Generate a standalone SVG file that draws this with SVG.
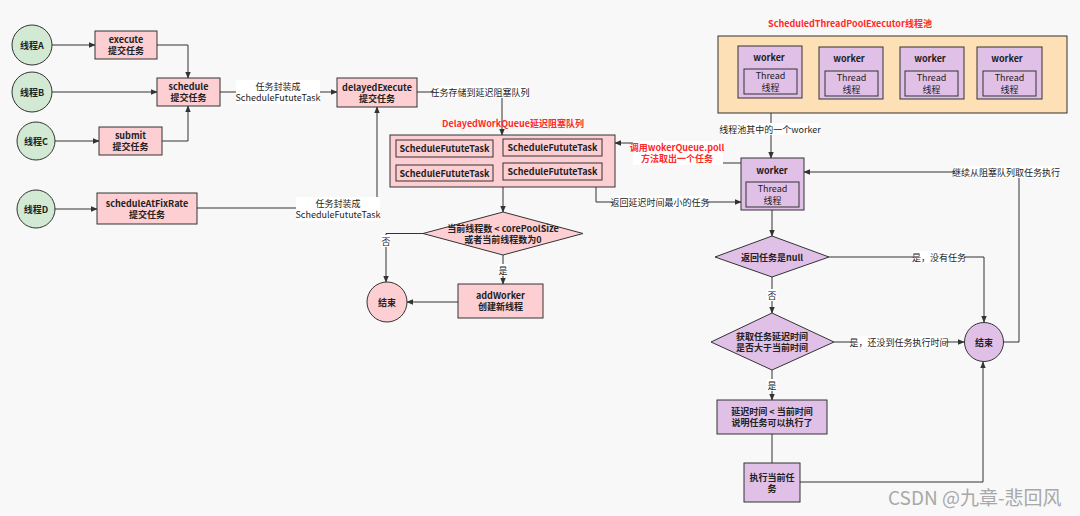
<svg xmlns="http://www.w3.org/2000/svg" width="1080" height="516" viewBox="0 0 1080 516">
<defs>
<marker id="a" viewBox="0 0 10 10" refX="9" refY="5" markerWidth="7" markerHeight="7" orient="auto" markerUnits="userSpaceOnUse"><path d="M0,1 L10,5 L0,9 Z" fill="#333"/></marker>
<style>
.pk{fill:#fdcfd3;stroke:#333;stroke-width:1}
.gr{fill:#d2e9d3;stroke:#333;stroke-width:1}
.pu{fill:#e0c0e7;stroke:#333;stroke-width:1}
.or{fill:#fde0b5;stroke:#333;stroke-width:1}
.t{font-family:"Noto Sans CJK SC","Noto Sans",sans-serif;font-size:9px;fill:#222;text-anchor:middle;dominant-baseline:central}
.b{font-weight:bold}
.th{font-size:9px}
.red{fill:#ff2a2a}
.ln{fill:none;stroke:#333;stroke-width:1;marker-end:url(#a)}
.ln0{fill:none;stroke:#333;stroke-width:1}
.bg{fill:#ffffff}
</style>
</defs>
<rect width="1080" height="516" fill="#f8f8f8"/>

<g id="connectors">
<path class="ln" d="M52,45 H95"/>
<path class="ln" d="M157,45 H188 V78"/>
<path class="ln" d="M52,92 H157"/>
<path class="ln" d="M55,141 H99"/>
<path class="ln" d="M162,141 H188 V106"/>
<path class="ln" d="M220,92 H337"/>
<path class="ln" d="M55,209 H97"/>
<path class="ln" d="M197,208 H377 V107"/>
<path class="ln" d="M417,92 H502 V135"/>
<path class="ln" d="M503,187 V212"/>
<path class="ln" d="M423,233.5 H386 V282"/>
<path class="ln" d="M503,255 V284"/>
<path class="ln" d="M458,302 H407"/>
<path class="ln" d="M771,98 V158"/>
<path class="ln" d="M741,163 H680 V143 H615"/>
<path class="ln" d="M596,187 V202 H741"/>
<path class="ln" d="M772,210 V236"/>
<path class="ln" d="M829,257 H984 V322"/>
<path class="ln" d="M772,277 V313"/>
<path class="ln" d="M834,342 H964"/>
<path class="ln" d="M772,370 V400"/>
<path class="ln0" d="M772,434 V463"/>
<path class="ln" d="M800,482 H983 V362"/>
<path class="ln" d="M1003,342 H1019 V172 H804"/>

<rect class="bg" x="236" y="80" width="84" height="24"/>
<text class="t" x="278" y="86.5">任务封装成</text>
<text class="t" x="278" y="97.5">ScheduleFututeTask</text>
<rect class="bg" x="296" y="197" width="84" height="24"/>
<text class="t" x="338" y="203.5">任务封装成</text>
<text class="t" x="338" y="214.5">ScheduleFututeTask</text>
<rect class="bg" x="434" y="86" width="92" height="12"/>
<text class="t" x="480" y="92">任务存储到延迟阻塞队列</text>
<rect class="bg" x="381" y="235" width="10" height="12"/>
<text class="t" x="386" y="241">否</text>
<rect class="bg" x="498" y="264" width="10" height="12"/>
<text class="t" x="503" y="270">是</text>
<rect class="bg" x="722" y="123" width="97" height="12"/>
<text class="t" x="770" y="129">线程池其中的一个worker</text>
<rect class="bg" x="633" y="141" width="90" height="24"/>
<text class="t b red" x="677" y="147.5">调用wokerQueue.poll</text>
<text class="t b red" x="677" y="158.5">方法取出一个任务</text>
<rect class="bg" x="614" y="196" width="92" height="12"/>
<text class="t" x="660" y="202">返回延迟时间最小的任务</text>
<rect class="bg" x="914" y="251" width="50" height="12"/>
<text class="t" x="939" y="257">是，没有任务</text>
<rect class="bg" x="767" y="289" width="10" height="12"/>
<text class="t" x="772" y="295">否</text>
<rect class="bg" x="852" y="336" width="94" height="12"/>
<text class="t" x="899" y="342">是，还没到任务执行时间</text>
<rect class="bg" x="767" y="379" width="10" height="12"/>
<text class="t" x="772" y="385">是</text>
<rect class="bg" x="955" y="166" width="102" height="12"/>
<text class="t" x="1006" y="172">继续从阻塞队列取任务执行</text>
</g>

<g id="threadA"><circle class="gr" cx="32" cy="45" r="20"/><text class="t b" x="32" y="45">线程A</text></g>
<g id="threadB"><circle class="gr" cx="32" cy="92" r="20"/><text class="t b" x="32" y="92">线程B</text></g>
<g id="threadC"><circle class="gr" cx="36" cy="141" r="19"/><text class="t b" x="36" y="141">线程C</text></g>
<g id="threadD"><circle class="gr" cx="36" cy="209" r="19"/><text class="t b" x="36" y="209">线程D</text></g>

<g id="execute"><rect class="pk" x="95" y="31" width="62" height="28"/><text class="t b" x="126" y="39.5">execute</text><text class="t b" x="126" y="50.5">提交任务</text></g>
<g id="schedule"><rect class="pk" x="157" y="78" width="63" height="28"/><text class="t b" x="188.5" y="86.5">schedule</text><text class="t b" x="188.5" y="97.5">提交任务</text></g>
<g id="submit"><rect class="pk" x="99" y="127" width="63" height="28"/><text class="t b" x="130.5" y="135.5">submit</text><text class="t b" x="130.5" y="146.5">提交任务</text></g>
<g id="fixrate"><rect class="pk" x="97" y="193" width="100" height="31"/><text class="t b" x="147" y="203">scheduleAtFixRate</text><text class="t b" x="147" y="214">提交任务</text></g>
<g id="delayedExecute"><rect class="pk" x="337" y="78" width="80" height="29"/><text class="t b" x="377" y="87">delayedExecute</text><text class="t b" x="377" y="98">提交任务</text></g>

<g id="queue">
<text class="t b red" x="513" y="123">DelayedWorkQueue延迟阻塞队列</text>
<rect class="pk" x="390" y="135" width="225" height="52"/>
<rect class="pk" x="396" y="140" width="97" height="17"/><text class="t b" x="444.5" y="148.5">ScheduleFututeTask</text>
<rect class="pk" x="503" y="139" width="99" height="17"/><text class="t b" x="552.5" y="147.5">ScheduleFututeTask</text>
<rect class="pk" x="396" y="165" width="97" height="16"/><text class="t b" x="444.5" y="173">ScheduleFututeTask</text>
<rect class="pk" x="503" y="163" width="99" height="17"/><text class="t b" x="552.5" y="171.5">ScheduleFututeTask</text>
</g>

<g id="checkCore"><polygon class="pk" points="423,233.5 503,212 583,233.5 503,255"/><text class="t b" x="503" y="228.5">当前线程数 &lt; corePoolSize</text><text class="t b" x="503" y="239.5">或者当前线程数为0</text></g>
<g id="end1"><circle class="pk" cx="387" cy="302" r="20"/><text class="t b" x="387" y="302">结束</text></g>
<g id="addWorker"><rect class="pk" x="458" y="284" width="85" height="34"/><text class="t b" x="500.5" y="295.5">addWorker</text><text class="t b" x="500.5" y="306.5">创建新线程</text></g>

<g id="pool">
<text class="t b red" x="850" y="23">ScheduledThreadPoolExecutor线程池</text>
<rect class="or" x="718" y="36" width="349" height="77"/>
<rect class="pu" x="738" y="46" width="64" height="52"/><text class="t b" x="769" y="57">worker</text>
<rect class="pu" x="744" y="69" width="53" height="25"/><text class="t th" x="770.5" y="75">Thread</text><text class="t th" x="770.5" y="87.5">线程</text>
<rect class="pu" x="819" y="47" width="64" height="52"/><text class="t b" x="849" y="58">worker</text>
<rect class="pu" x="825" y="71" width="53" height="25"/><text class="t th" x="851.5" y="77">Thread</text><text class="t th" x="851.5" y="89.5">线程</text>
<rect class="pu" x="900" y="47" width="64" height="52"/><text class="t b" x="930" y="58">worker</text>
<rect class="pu" x="905" y="71" width="53" height="25"/><text class="t th" x="931.5" y="77">Thread</text><text class="t th" x="931.5" y="89.5">线程</text>
<rect class="pu" x="977" y="47" width="65" height="52"/><text class="t b" x="1007" y="58">worker</text>
<rect class="pu" x="983" y="71" width="53" height="25"/><text class="t th" x="1009.5" y="77">Thread</text><text class="t th" x="1009.5" y="89.5">线程</text>
</g>

<g id="worker"><rect class="pu" x="741" y="158" width="63" height="52"/><text class="t b" x="772" y="170">worker</text><rect class="pu" x="746" y="182" width="53" height="25"/><text class="t th" x="772.5" y="188">Thread</text><text class="t th" x="772.5" y="200.5">线程</text></g>
<g id="isNull"><polygon class="pu" points="715,257 772,236 829,257 772,277"/><text class="t b" x="772" y="257">返回任务是null</text></g>
<g id="checkDelay"><polygon class="pu" points="711,342 772,313 834,342 772,370"/><text class="t b" x="772" y="336.5">获取任务延迟时间</text><text class="t b" x="772" y="347.5">是否大于当前时间</text></g>
<g id="end2"><circle class="pu" cx="984" cy="342" r="19.5"/><text class="t b" x="984" y="342">结束</text></g>
<g id="canRun"><rect class="pu" x="717" y="400" width="110" height="34"/><text class="t b" x="772" y="411.5">延迟时间 &lt; 当前时间</text><text class="t b" x="772" y="422.5">说明任务可以执行了</text></g>
<g id="execTask"><rect class="pu" x="744" y="463" width="56" height="39"/><text class="t b" x="772" y="477">执行当前任</text><text class="t b" x="772" y="488">务</text></g>

<text x="888" y="505" font-family="Noto Sans CJK SC, Noto Sans, sans-serif" font-size="19" fill="#a8a8a8">CSDN @九章-悲回风</text>
</svg>
